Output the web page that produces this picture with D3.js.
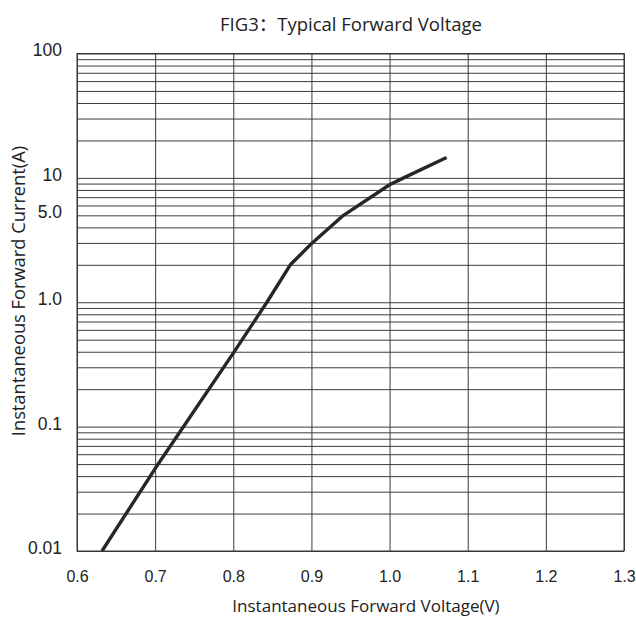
<!DOCTYPE html>
<html>
<head>
<meta charset="utf-8">
<script src="https://cdn.jsdelivr.net/npm/d3@7"></script>
<style>
  body { margin: 0; background: #fff; }
</style>
</head>
<body>
<div id="chart"></div>
<script>
// values
const voltage = [0.632, 0.70, 0.80, 0.843, 0.873, 0.901, 0.941, 1.0, 1.018, 1.073];
const current = [0.01, 0.046, 0.39, 1.0, 2.0, 3.0, 5.0, 8.8, 10, 14.6];
const xTicks = [0.6, 0.7, 0.8, 0.9, 1.0, 1.1, 1.2, 1.3];
const yTickValues = [0.01, 0.1, 1, 5, 10, 100];
const yTickLabels = ["0.01", "0.1", "1.0", "5.0", "10", "100"];

const width = 636;
const height = 619;
const margin = { top: 53.5, right: 12, bottom: 68, left: 77 };
const innerW = width - margin.left - margin.right;
const innerH = height - margin.top - margin.bottom;

const svg = d3
  .select("#chart")
  .append("svg")
  .attr("width", width)
  .attr("height", height);

const x = d3
  .scaleLinear()
  .domain([0.6, 1.3])
  .range([margin.left, width - margin.right]);

const y = d3
  .scaleLog()
  .domain([0.01, 100])
  .range([height - margin.bottom, margin.top]);

// horizontal grid: every 1..9 step of each decade
svg
  .append("g")
  .attr("transform", `translate(${margin.left},0)`)
  .call(d3.axisLeft(y).tickValues(y.ticks()).tickSize(-innerW).tickFormat(""))
  .call((g) => g.select(".domain").remove())
  .call((g) => g.selectAll("line").attr("stroke", "#3c3c3c"));

// vertical grid
svg
  .append("g")
  .attr("transform", `translate(0,${height - margin.bottom})`)
  .call(d3.axisBottom(x).tickValues(xTicks).tickSize(-innerH).tickFormat(""))
  .call((g) => g.select(".domain").remove())
  .call((g) => g.selectAll("line").attr("stroke", "#3c3c3c"));

// frame
svg
  .append("rect")
  .attr("x", margin.left)
  .attr("y", margin.top)
  .attr("width", innerW)
  .attr("height", innerH)
  .attr("fill", "none")
  .attr("stroke", "#333");

// x tick labels
svg
  .append("g")
  .attr("transform", `translate(0,${height - margin.bottom})`)
  .call(d3.axisBottom(x).tickValues(xTicks).tickSize(0).tickPadding(20).tickFormat(d3.format(".1f")))
  .call((g) => g.select(".domain").remove())
  .call((g) =>
    g.selectAll("text")
      .attr("fill", "#222")
      .style("font-family", "'Liberation Sans', Arial, sans-serif")
      .style("font-size", "16px")
  );

// y tick labels
svg
  .append("g")
  .attr("transform", `translate(${margin.left},0)`)
  .call(
    d3.axisLeft(y)
      .tickValues(yTickValues)
      .tickSize(0)
      .tickPadding(15)
      .tickFormat((d, i) => yTickLabels[i])
  )
  .call((g) => g.select(".domain").remove())
  .call((g) =>
    g.selectAll("text")
      .attr("fill", "#222")
      .attr("dy", "0.14em")
      .style("font-family", "'Liberation Sans', Arial, sans-serif")
      .style("font-size", "17.5px")
  );

// curve
const points = voltage.map((v, i) => ({ v, i: current[i] }));
const line = d3
  .line()
  .x((d) => x(d.v))
  .y((d) => y(d.i));

svg
  .append("path")
  .datum(points)
  .attr("fill", "none")
  .attr("stroke", "#24272b")
  .attr("stroke-width", 3.4)
  .attr("stroke-linejoin", "round")
  .attr("d", line);

// titles
svg
  .append("text")
  .attr("x", 351)
  .attr("y", 31)
  .attr("text-anchor", "middle")
  .attr("fill", "#222")
  .style("font-family", "'Open Sans', 'Noto Sans CJK SC', sans-serif")
  .style("font-size", "18.5px")
  .text("FIG3：Typical Forward Voltage");

svg
  .append("text")
  .attr("x", 366)
  .attr("y", 612)
  .attr("text-anchor", "middle")
  .attr("fill", "#222")
  .style("font-family", "'Open Sans', sans-serif")
  .style("font-size", "17px")
  .text("Instantaneous Forward Voltage(V)");

svg
  .append("text")
  .attr("transform", "rotate(-90)")
  .attr("x", -291)
  .attr("y", 25)
  .attr("text-anchor", "middle")
  .attr("fill", "#222")
  .style("font-family", "'Open Sans', sans-serif")
  .style("font-size", "18.3px")
  .text("Instantaneous Forward Current(A)");
</script>
</body>
</html>
